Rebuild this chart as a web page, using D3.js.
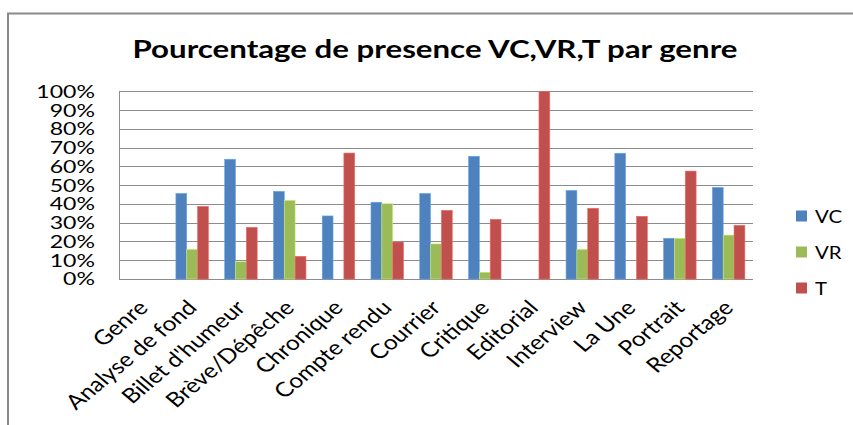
<!DOCTYPE html>
<html><head><meta charset="utf-8">
<script src="https://cdn.jsdelivr.net/npm/d3@7"></script>
<style>html,body{margin:0;padding:0;background:#fff;}svg{display:block;}</style>
</head><body>
<svg id="chart" width="853" height="425"></svg>
<script>
const categories = ["Genre","Analyse de fond","Billet d'humeur","Brève/Dépêche","Chronique","Compte rendu","Courrier","Critique","Editorial","Interview","La Une","Portrait","Reportage"];
const seriesNames = ["VC","VR","T"];
const vcValues = [0, 45.6, 63.8, 46.7, 33.6, 40.9, 45.6, 65.4, 0, 47.2, 67.0, 21.7, 48.8];
const vrValues = [0, 15.8, 9.2, 41.9, 0, 40.1, 18.7, 3.6, 0, 15.8, 0, 21.7, 23.4];
const tValues  = [0, 38.7, 27.5, 12.1, 67.1, 19.7, 36.6, 31.8, 100, 37.7, 33.4, 57.5, 28.6];
const yTicks = [0,10,20,30,40,50,60,70,80,90,100];
const colors = ["#4F81BD","#9BBB59","#C0504D"];
const title = "Pourcentage de presence VC,VR,T par genre";

const seriesValues = [vcValues, vrValues, tValues];
const svg = d3.select("#chart");
const FONT = "Lato, 'Open Sans', sans-serif";
const SX = 1.2;

// outer border
svg.append("path").attr("d","M8,425 L8,13.5 L853,13.5").attr("fill","none").attr("stroke","#8a8a8a").attr("stroke-width",2);

const plot = {left:119, right:753, top:91.3, bottom:279};
const x = d3.scaleBand().domain(categories).range([plot.left, plot.right]);
const xs = d3.scaleBand().domain(seriesNames).range([0, x.bandwidth()]).paddingInner(0).paddingOuter(0.75);
const y = d3.scaleLinear().domain([0,100]).range([plot.bottom, plot.top]);

// title
const t = svg.append("text").attr("x", 435).attr("y", 58).attr("text-anchor","middle")
  .attr("font-family", FONT).attr("font-weight","bold").attr("font-size", 24).attr("fill","#000").text(title);
t.attr("textLength", 605).attr("lengthAdjust","spacingAndGlyphs");

// gridlines
svg.append("g").selectAll("line").data(yTicks).join("line")
  .attr("x1", plot.left).attr("x2", plot.right)
  .attr("y1", d=>Math.round(y(d))+0.5).attr("y2", d=>Math.round(y(d))+0.5)
  .attr("stroke","#8c8c8c").attr("stroke-width",1);
svg.append("line").attr("x1",plot.left+0.5).attr("x2",plot.left+0.5).attr("y1",Math.round(plot.top)).attr("y2",Math.round(plot.bottom)+1)
  .attr("stroke","#8c8c8c").attr("stroke-width",1);

// y labels
const yAxis = d3.axisLeft(y).tickValues(yTicks).tickFormat(d=>d+"%").tickSize(0).tickPadding(0);
const yg = svg.append("g").attr("transform",`translate(${plot.left},0)`).call(yAxis);
yg.select(".domain").remove();
yg.selectAll(".tick text")
  .attr("font-family",FONT).attr("font-size",16.5).attr("fill","#000").attr("x",null).attr("dy","0.36em")
  .attr("transform",`translate(-24,0) scale(1.4,1)`).attr("text-anchor","end");

// bars
const groups = svg.append("g").selectAll("g").data(categories).join("g")
  .attr("transform", d=>`translate(${x(d)},0)`);
groups.selectAll("rect").data((c,i)=>seriesNames.map((s,j)=>({s, v: seriesValues[j][i], j})))
  .join("rect")
  .attr("x", d=>xs(d.s)).attr("width", xs.bandwidth())
  .attr("y", d=>y(d.v)).attr("height", d=>y(0)-y(d.v))
  .attr("fill", d=>colors[d.j])
  .attr("stroke", d=>d3.color(colors[d.j]).brighter(0.7)).attr("stroke-width",0.6);

// x labels
const xAxis = d3.axisBottom(x).tickSize(0).tickPadding(0);
const xg = svg.append("g").attr("transform",`translate(0,${plot.bottom})`).call(xAxis);
xg.select(".domain").remove();
const xt = xg.selectAll(".tick text")
  .attr("font-family",FONT).attr("font-size",20).attr("fill","#000")
  .attr("y",null).attr("dy",null).attr("text-anchor","end");
// size so that "Analyse de fond" spans ~144px along its baseline
const refLen = xt.filter(d=>d==="Analyse de fond").node().getComputedTextLength();
const xfs = 20*144/refLen;
xt.attr("font-size", xfs).attr("transform",`translate(6,30) scale(${SX},1) rotate(-45)`);

// legend
const lg = svg.append("g").selectAll("g").data(seriesNames).join("g")
  .attr("transform",(d,i)=>`translate(796,${210.5+i*36})`);
lg.append("rect").attr("width",11).attr("height",11).attr("fill",(d,i)=>colors[i]);
lg.append("text").attr("font-family",FONT).attr("font-size",17).attr("fill","#000")
  .attr("transform",`translate(19,12) scale(${SX},1)`).text(d=>d);
</script>
</body></html>
